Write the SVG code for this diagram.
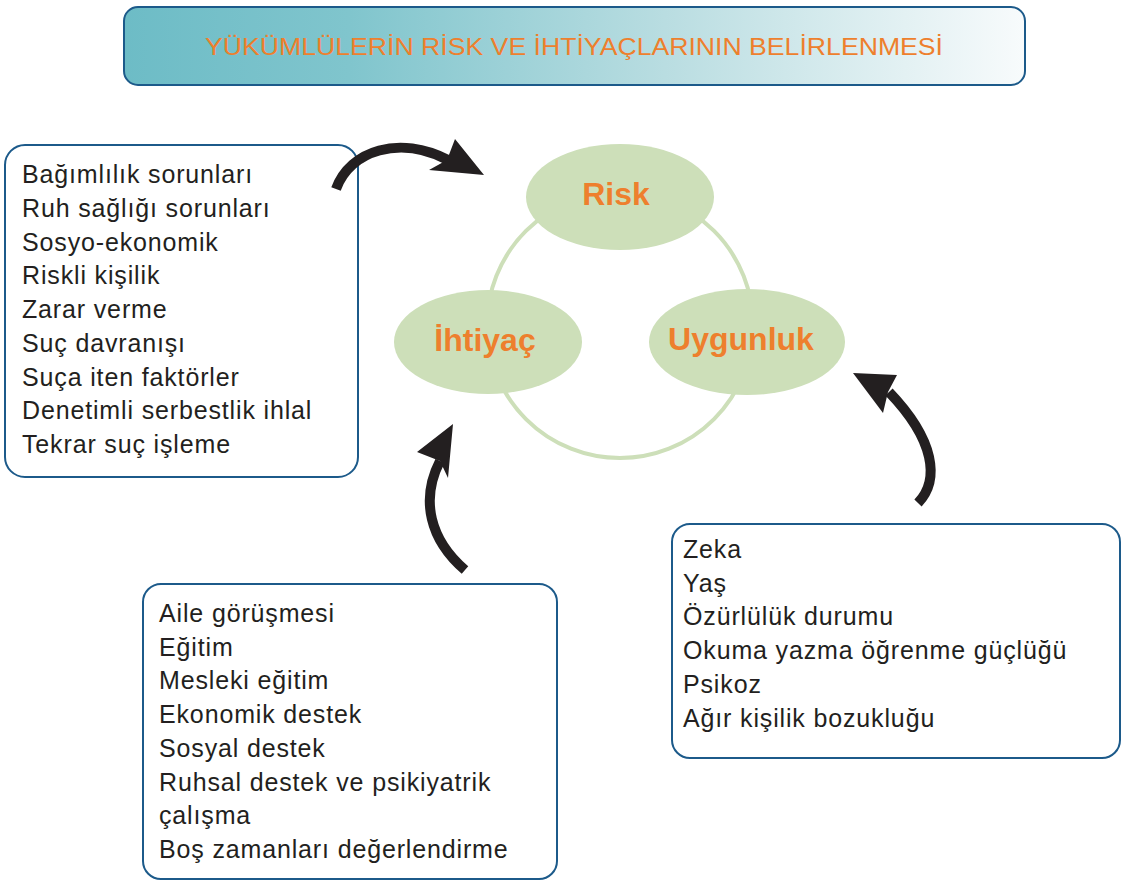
<svg xmlns="http://www.w3.org/2000/svg" width="1122" height="881" viewBox="0 0 1122 881">
<defs>
<linearGradient id="tg" x1="0" y1="0" x2="1" y2="0">
<stop offset="0" stop-color="#6dbcc6"/>
<stop offset="0.25" stop-color="#80c5cd"/>
<stop offset="0.6" stop-color="#b9dde1"/>
<stop offset="1" stop-color="#f8fbfc"/>
</linearGradient>
<style>
.box{fill:#fff;stroke:#1c5a8a;stroke-width:2}
.t{font-family:"Liberation Sans",Arial,sans-serif;font-size:25px;letter-spacing:0.85px;fill:#231f20}
.ell{fill:#cddfb9}
.lbl{font-family:"Liberation Sans",Arial,sans-serif;font-size:32px;font-weight:bold;fill:#ee7f2d;text-anchor:middle}
.shaft{fill:none;stroke:#231f20;stroke-width:10}
.head{fill:#231f20}
</style>
</defs>
<rect width="1122" height="881" fill="#fff"/>
<g id="title">
<rect x="124" y="7" width="901" height="78" rx="14" fill="url(#tg)" stroke="#1c5a8a" stroke-width="2"/>
<text x="574" y="55" font-family="'Liberation Sans',Arial,sans-serif" font-size="24" fill="#ee7f2d" text-anchor="middle" textLength="738" lengthAdjust="spacingAndGlyphs">YÜKÜMLÜLERİN RİSK VE İHTİYAÇLARININ BELİRLENMESİ</text>
</g>
<g id="cycle">
<circle cx="620" cy="325" r="133" fill="none" stroke="#cddfb9" stroke-width="4"/>
</g>
<g id="risk">
<ellipse class="ell" cx="620" cy="197" rx="94" ry="53"/>
<text class="lbl" x="616" y="205">Risk</text>
</g>
<g id="ihtiyac">
<ellipse class="ell" cx="488" cy="342" rx="94" ry="52"/>
<text class="lbl" x="485" y="351">İhtiyaç</text>
</g>
<g id="uygunluk">
<ellipse class="ell" cx="747" cy="342" rx="98" ry="53"/>
<text class="lbl" x="741" y="350">Uygunluk</text>
</g>
<g id="riskBox">
<rect class="box" x="5" y="145" width="353" height="332" rx="20"/>
<text class="t" x="22" y="183">Bağımlılık sorunları</text>
<text class="t" x="22" y="217">Ruh sağlığı sorunları</text>
<text class="t" x="22" y="251">Sosyo-ekonomik</text>
<text class="t" x="22" y="284">Riskli kişilik</text>
<text class="t" x="22" y="318">Zarar verme</text>
<text class="t" x="22" y="352">Suç davranışı</text>
<text class="t" x="22" y="386">Suça iten faktörler</text>
<text class="t" x="22" y="419">Denetimli serbestlik ihlal</text>
<text class="t" x="22" y="453">Tekrar suç işleme</text>
</g>
<g id="needBox">
<rect class="box" x="143" y="584" width="414" height="295" rx="18"/>
<text class="t" x="159" y="622">Aile görüşmesi</text>
<text class="t" x="159" y="656">Eğitim</text>
<text class="t" x="159" y="689">Mesleki eğitim</text>
<text class="t" x="159" y="723">Ekonomik destek</text>
<text class="t" x="159" y="757">Sosyal destek</text>
<text class="t" x="159" y="791">Ruhsal destek ve psikiyatrik</text>
<text class="t" x="159" y="824">çalışma</text>
<text class="t" x="159" y="858">Boş zamanları değerlendirme</text>
</g>
<g id="fitBox">
<rect class="box" x="672" y="524" width="448" height="234" rx="18"/>
<text class="t" x="683" y="558">Zeka</text>
<text class="t" x="683" y="592">Yaş</text>
<text class="t" x="683" y="625">Özürlülük durumu</text>
<text class="t" x="683" y="659">Okuma yazma öğrenme güçlüğü</text>
<text class="t" x="683" y="693">Psikoz</text>
<text class="t" x="683" y="727">Ağır kişilik bozukluğu</text>
</g>
<g id="connectors">
<path class="shaft" d="M336,189 C350,150 400,135 448,160"/>
<polygon class="head" points="484,175 455,139 447,160 429,170"/>
<path class="shaft" d="M918,503 C940,480 935,440 889,392"/>
<polygon class="head" points="853,373 897,375 888,392 883,413"/>
<path class="shaft" d="M465,570 C430,540 420,500 440,461"/>
<polygon class="head" points="453,424 448,478 440,461 417,452"/>
</g>
</svg>
